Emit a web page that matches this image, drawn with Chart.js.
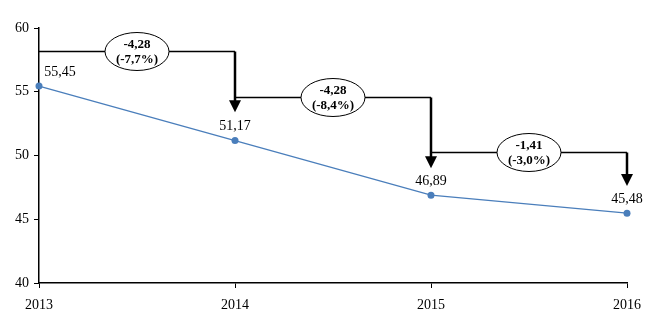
<!DOCTYPE html>
<html>
<head>
<meta charset="utf-8">
<script src="https://cdn.jsdelivr.net/npm/chart.js@4.4.0/dist/chart.umd.min.js"></script>
<style>
  html, body { margin: 0; padding: 0; background: #fff; }
  #wrap { width: 650px; height: 330px; }
</style>
</head>
<body>
<div id="wrap"><canvas id="chart" width="650" height="330"></canvas></div>
<script>
// values
const years = ['2013', '2014', '2015', '2016'];
const values = [55.45, 51.17, 46.89, 45.48];
const yTicks = [40, 45, 50, 55, 60];

// step brackets: level of the horizontal line and tip of the arrow (data units)
const bracketLevels = [58.2, 54.6, 50.3];
const arrowTips = [53.4, 49.0, 47.6];

const serif = '"Liberation Serif", "DejaVu Serif", serif';
const blue = '#4a7ebb';

function fmt(v, d) {
    return v.toFixed(d).replace('.', ',');
}

const bracketPlugin = {
    id: 'brackets',
    afterDatasetsDraw(chart) {
        let ctx = chart.ctx;
        let xs = chart.scales.x;
        let ys = chart.scales.y;
        ctx.save();
        for (let i = 0; i < values.length - 1; i++) {
            let x0 = xs.getPixelForValue(i);
            let x1 = xs.getPixelForValue(i + 1);
            let yl = Math.round(ys.getPixelForValue(bracketLevels[i])) + 0.5;
            let yt = ys.getPixelForValue(arrowTips[i]);

            ctx.strokeStyle = '#000';
            ctx.lineWidth = 1.3;
            ctx.beginPath();
            ctx.moveTo(x0, yl);
            ctx.lineTo(x1, yl);
            ctx.stroke();

            ctx.lineWidth = 2.5;
            ctx.beginPath();
            ctx.moveTo(x1, yl);
            ctx.lineTo(x1, yt - 10);
            ctx.stroke();

            ctx.fillStyle = '#000';
            ctx.beginPath();
            ctx.moveTo(x1 - 6, yt - 12);
            ctx.lineTo(x1 + 6, yt - 12);
            ctx.lineTo(x1, yt);
            ctx.closePath();
            ctx.fill();

            // ellipse label
            let cx = (x0 + x1) / 2;
            ctx.lineWidth = 1;
            ctx.fillStyle = '#fff';
            ctx.beginPath();
            ctx.ellipse(cx, yl, 32, 19, 0, 0, Math.PI * 2);
            ctx.fill();
            ctx.stroke();

            let diff = values[i + 1] - values[i];
            let pct = diff / values[i] * 100;
            ctx.fillStyle = '#000';
            ctx.font = 'bold 13px ' + serif;
            ctx.textAlign = 'center';
            ctx.textBaseline = 'middle';
            ctx.fillText(fmt(diff, 2), cx, yl - 7);
            ctx.fillText('(' + fmt(pct, 1) + '%)', cx, yl + 8);
        }

        // value labels
        let meta = chart.getDatasetMeta(0);
        ctx.font = '14px ' + serif;
        ctx.fillStyle = '#000';
        ctx.textBaseline = 'middle';
        meta.data.forEach((pt, i) => {
            let shift = i === 0 ? 21 : 0;
            ctx.textAlign = 'center';
            ctx.fillText(fmt(values[i], 2), pt.x + shift, pt.y - 14);
        });
        ctx.restore();
    }
};

new Chart(document.getElementById('chart'), {
    type: 'line',
    data: {
        labels: years,
        datasets: [{
            data: values,
            borderColor: blue,
            backgroundColor: blue,
            borderWidth: 1.3,
            pointRadius: 3.5,
            pointBorderWidth: 0,
            pointBackgroundColor: blue,
            tension: 0
        }]
    },
    options: {
        responsive: false,
        animation: false,
        layout: { padding: { top: 28, right: 23, left: 0, bottom: 0 } },
        plugins: { legend: { display: false }, tooltip: { enabled: false } },
        scales: {
            x: {
                offset: false,
                grid: { drawOnChartArea: false, drawTicks: true, tickLength: 5, color: '#000' },
                border: { color: '#000', width: 1.5 },
                ticks: { color: '#000', font: { family: serif, size: 14 }, padding: 9, maxRotation: 0 },
                afterFit(scale) { scale.height = 47; }
            },
            y: {
                min: 40,
                max: 60,
                afterBuildTicks(scale) { scale.ticks = yTicks.map(v => ({ value: v })); },
                grid: { drawOnChartArea: false, drawTicks: true, tickLength: 5, color: '#000' },
                border: { color: '#000', width: 1.5 },
                ticks: { color: '#000', font: { family: serif, size: 14 }, padding: 5 },
                afterFit(scale) { scale.width = 39; }
            }
        }
    },
    plugins: [bracketPlugin]
});
</script>
</body>
</html>
